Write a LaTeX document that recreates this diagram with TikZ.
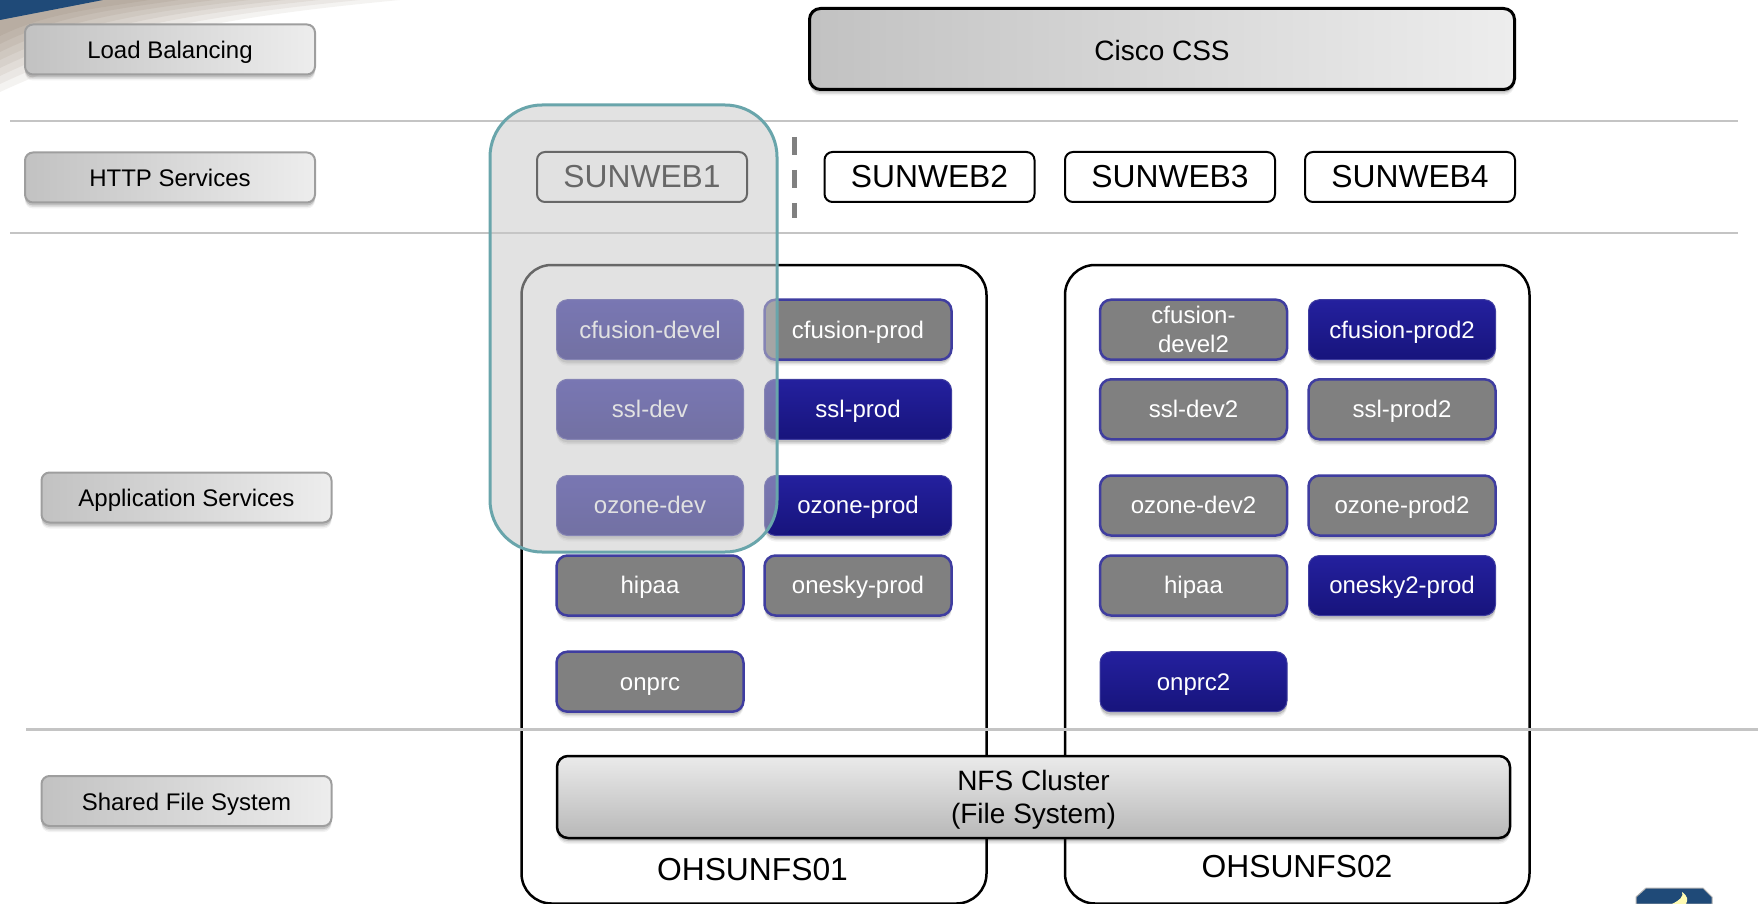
\documentclass[tikz,border=0pt]{standalone}
\usepackage{fontspec}
\setmainfont{Liberation Sans}
\usetikzlibrary{shadows,calc}
\definecolor{navyA}{HTML}{24209E}
\definecolor{navyB}{HTML}{17147C}
\definecolor{blueedge}{HTML}{3F3DA0}
\definecolor{bar}{HTML}{C4C4C4}
\definecolor{banner}{HTML}{1F4A78}
\definecolor{tealedge}{HTML}{69A5AB}
\tikzset{
  softshadow/.style={drop shadow={shadow xshift=0pt,shadow yshift=-6pt,opacity=.05,fill=black},
                     drop shadow={shadow xshift=0pt,shadow yshift=-4.5pt,opacity=.08,fill=black},
                     drop shadow={shadow xshift=0pt,shadow yshift=-3pt,opacity=.14,fill=black}},
  evenline/.style={execute at begin node={\rule[-5.4pt]{0pt}{27.4pt}}},
  tierline/.style={execute at begin node={\rule[-5.4pt]{0pt}{29pt}}},
  cssline/.style={execute at begin node={\rule[-6pt]{0pt}{35pt}}},
  tier/.style={draw=black!38,line width=2pt,rounded corners=8pt,left color=black!24,right color=black!7,
     softshadow,tierline,inner sep=0pt,minimum width=290pt,minimum height=50pt,text=black,font=\fontsize{24}{28}\selectfont},
  web/.style={draw=black,line width=2pt,rounded corners=8pt,fill=white,inner sep=0pt,
     minimum width=210pt,minimum height=50pt,font=\fontsize{31.8}{36}\selectfont},
  host/.style={draw=black,line width=2.5pt,rounded corners=30pt},
  appbase/.style={rounded corners=11pt,inner sep=0pt,minimum width=187pt,minimum height=60pt,text=white,
     softshadow,font=\fontsize{24}{29}\selectfont,align=center},
  app/.style={appbase,evenline},
  idlebox/.style={draw=blueedge,line width=2.5pt,fill=black!50},
  idle/.style={app,idlebox},
  live/.style={app,draw=blueedge,line width=1pt,top color=navyA,bottom color=navyB},
  rule/.style={draw=bar,line width=2.2pt},
  big/.style={draw=black,line width=2.5pt,rounded corners=11pt,
     softshadow,inner sep=0pt,text=black,font=\fontsize{28}{33}\selectfont,align=center},
}
\begin{document}
\begin{tikzpicture}[x=1pt,y=-1pt]
\useasboundingbox (0,0) rectangle (1758,904);
% top-left banner with its soft grey swoosh
\foreach \xx/\hh in {400/92,360/84,320/76,285/68,250/60,215/52,180/44,150/36}{
  \fill[black!60!orange!60!black,opacity=.055] (0,0) -- (\xx,0)
     .. controls ({\xx*.55},{6+\hh*.12}) and ({\xx*.3},{\hh*.4}) .. (0,\hh) -- cycle;
}
\fill[banner] (0,0) -- (103,0) -- (0,20) -- cycle;
% rules
\coordinate (r1a) at (10,121);  \coordinate (r1b) at (1738,121);
\coordinate (r2a) at (10,233);  \coordinate (r2b) at (1738,233);
\coordinate (r3a) at (26,729.5);  \coordinate (r3b) at (1758,729.5);
\draw[rule] (r1a) -- (r1b);
\draw[rule] (r2a) -- (r2b);
% hosts
\draw[host] (521.5,265) rectangle (986.5,903.5);
\draw[host] (1065,265) rectangle (1529.5,903.5);
\draw[rule] (r3a) -- (r3b);
% tier labels
\node[tier] (lb)   at (170,49.5)  {Load Balancing};
\node[tier] (http) at (170,177.5) {HTTP Services};
\node[tier] (apps) at (186.5,497.5) {Application Services};
\node[tier] (fs)   at (186.5,801) {Shared File System};
% load balancer and web servers
\node[big,left color=black!24,right color=black!7,line width=3pt,cssline,minimum width=705pt,minimum height=81pt] (css) at (1162,49) {Cisco CSS};
\node[web] (w1) at (642,177) {SUNWEB1};
\node[web] (w2) at (929.5,177) {SUNWEB2};
\node[web] (w3) at (1170,177) {SUNWEB3};
\node[web] (w4) at (1410,177) {SUNWEB4};
\coordinate (da) at (794,137); \coordinate (db) at (794,218);
\draw[draw=black!50,line width=5pt,dash pattern=on 18pt off 15pt] (da) -- (db);
% application boxes
\node[live] (a1) at (650,329.7) {cfusion-devel};
\node[idle] (a2) at (858,329.7) {cfusion-prod};
\node[live] (a3) at (650,409.3) {ssl-dev};
\node[live] (a4) at (858,409.3) {ssl-prod};
\node[live] (a5) at (650,505.5) {ozone-dev};
\node[live] (a6) at (858,505.5) {ozone-prod};
\node[idle] (a7) at (650,585.5) {hipaa};
\node[idle] (a8) at (858,585.5) {onesky-prod};
\node[idle] (a9) at (650,681.7) {onprc};
\node[appbase,idlebox] (b1) at (1193.5,329.7) {cfusion-\\devel2};
\node[live] (b2) at (1402,329.7) {cfusion-prod2};
\node[idle] (b3) at (1193.5,409.3) {ssl-dev2};
\node[idle] (b4) at (1402,409.3) {ssl-prod2};
\node[idle] (b5) at (1193.5,505.5) {ozone-dev2};
\node[idle] (b6) at (1402,505.5) {ozone-prod2};
\node[idle] (b7) at (1193.5,585.5) {hipaa};
\node[live] (b8) at (1402,585.5) {onesky2-prod};
\node[live] (b9) at (1193.5,681.7) {onprc2};
% NFS
\node[big,top color=black!8,bottom color=black!28,minimum width=953pt,minimum height=82pt] (nfs) at (1033.5,797) {\rule{0pt}{26pt}NFS Cluster\\(File System)};
\node[font=\fontsize{31.8}{36}\selectfont,inner sep=0pt] (h1) at (752.5,870) {OHSUNFS01};
\node[font=\fontsize{31.8}{36}\selectfont,inner sep=0pt] (h2) at (1297,867) {OHSUNFS02};
% highlight
\fill[fill=black!22,fill opacity=.52,rounded corners=52pt] (490,105) rectangle (777,552);
\draw[draw=tealedge,line width=3pt,rounded corners=52pt] (490,105) rectangle (777,552);
% logo
\fill[banner,draw=black!30,line width=1pt] (1636,904) -- (1636,897) -- (1646,888) -- (1703,888) -- (1712,897) -- (1712,904) -- cycle;
\fill[yellow!30!white] (1672,904) .. controls (1680,900) and (1684,896) .. (1682,892) .. controls (1688,896) and (1688,900) .. (1686,904) -- cycle;
\end{tikzpicture}
\end{document}
